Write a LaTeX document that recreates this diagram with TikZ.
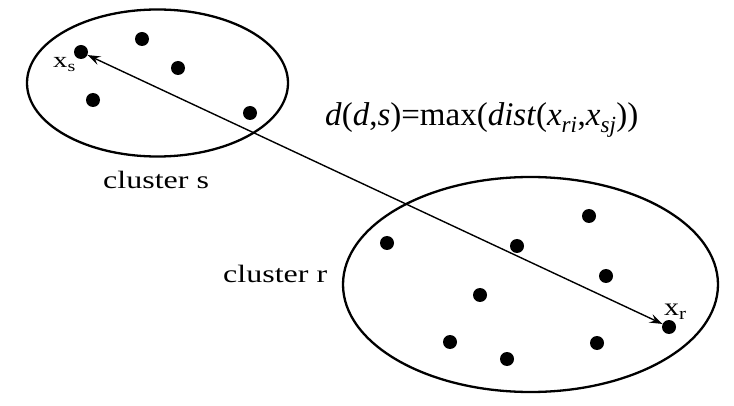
\documentclass[tikz,border=0pt]{standalone}
\usepackage{fontspec}
\setmainfont{Liberation Serif}
\usetikzlibrary{arrows.meta}
\begin{document}
\begin{tikzpicture}[x=1pt,y=-1pt,
  dot/.style={circle,fill=black,inner sep=0pt,minimum size=14pt},
  clus/.style={draw=black,line width=2.3pt},
  lbl/.style={inner sep=0pt,anchor=base west},
  conn/.style={line width=1.4pt,{Stealth[length=13pt,width=9pt,inset=5pt]}-{Stealth[length=13pt,width=9pt,inset=5pt]}}]
\useasboundingbox (0,0) rectangle (734,406);
% clusters
\draw[clus] (157.5,83) ellipse [x radius=130.5pt, y radius=73.5pt];
\draw[clus] (530.5,284.5) ellipse [x radius=187.5pt, y radius=107.5pt];
% cluster s points
\node[dot] (xs) at (81,52) {};
\node[dot] (s2) at (142,39) {};
\node[dot] (s3) at (178,68) {};
\node[dot] (s4) at (93,100) {};
\node[dot] (s5) at (250,113) {};
% cluster r points
\node[dot] (r1) at (387,243) {};
\node[dot] (r2) at (517,246) {};
\node[dot] (r3) at (589,216) {};
\node[dot] (r4) at (606,276) {};
\node[dot] (r5) at (480,295) {};
\node[dot] (xr) at (669,327) {};
\node[dot] (r7) at (450,342) {};
\node[dot] (r8) at (507,359) {};
\node[dot] (r9) at (597,343) {};
% connector
\draw[conn] (xs) -- (xr);
% labels
\node[lbl,font=\fontsize{22}{26}\selectfont] (lxs) at (53,68) {\scalebox{1.3}[1]{x\textsubscript{s}}};
\node[lbl,font=\fontsize{25}{28}\selectfont] (lxr) at (664,316) {\scalebox{1.2}[1]{x\textsubscript{r}}};
\node[lbl,font=\fontsize{25}{30}\selectfont] (ls) at (103,189) {\scalebox{1.28}[1]{cluster s}};
\node[lbl,font=\fontsize{25}{30}\selectfont] (lr) at (223,283) {\scalebox{1.28}[1]{cluster r}};
\node[lbl,font=\fontsize{33}{38}\selectfont] (f) at (325,126) {\textit{d}(\textit{d},\textit{s})=max(\textit{dist}(\textit{x}\textsubscript{\textit{ri}},\textit{x}\textsubscript{\textit{sj}}))};
\end{tikzpicture}
\end{document}
